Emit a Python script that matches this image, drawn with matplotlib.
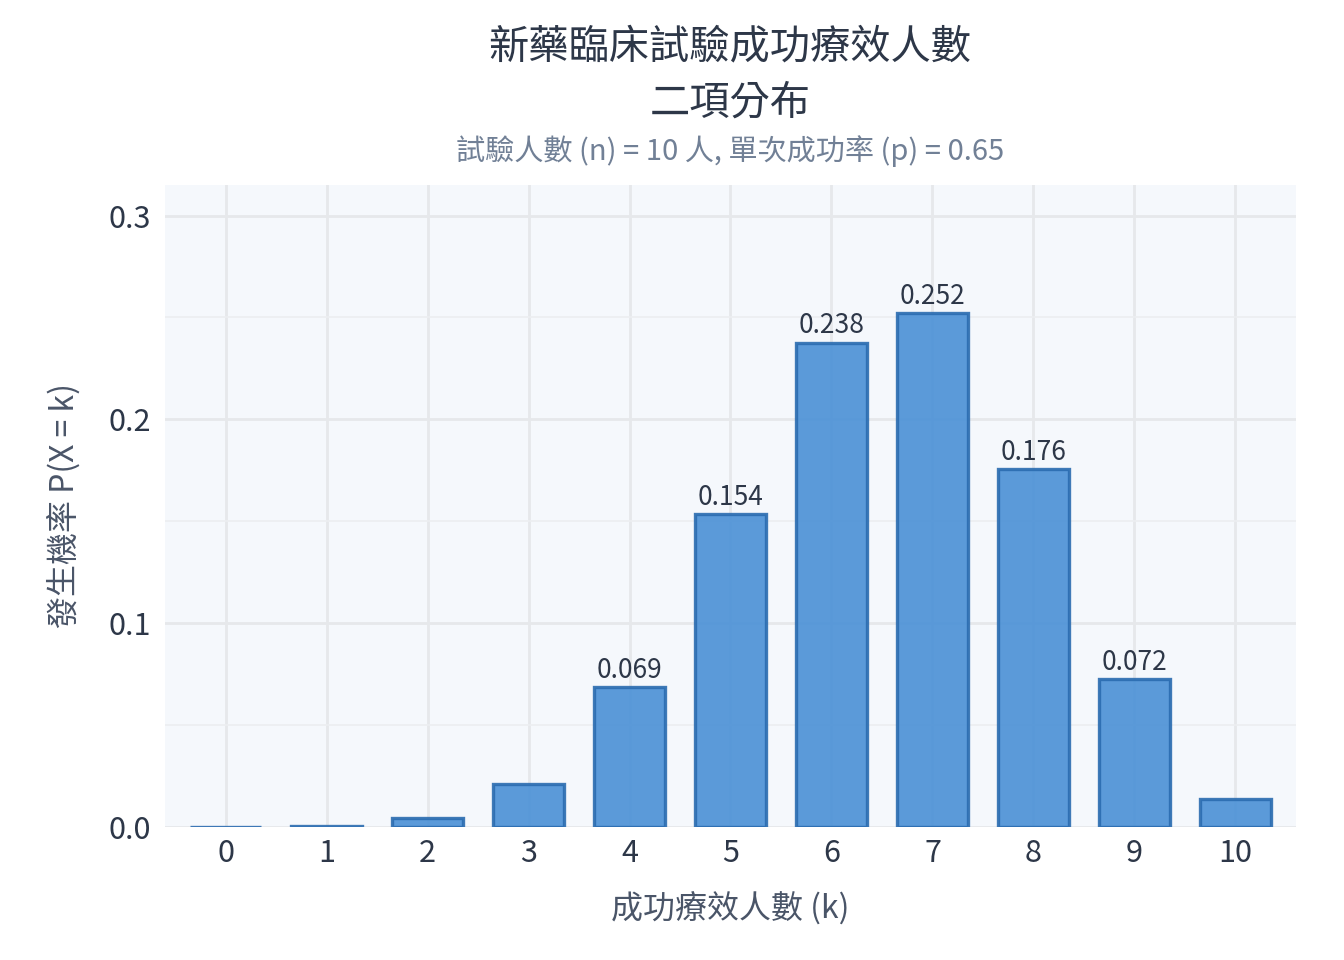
import matplotlib
matplotlib.use("Agg")
import matplotlib.pyplot as plt
from matplotlib.ticker import MultipleLocator

plt.rcParams['font.family'] = ['Noto Sans CJK TC', 'DejaVu Sans']

k_values = [0, 1, 2, 3, 4, 5, 6, 7, 8, 9, 10]
probs = [0.0000276, 0.000512, 0.00428, 0.0212, 0.0689, 0.1536, 0.2377, 0.2522, 0.1757, 0.0725, 0.0135]
label_threshold = 0.05

title = "新藥臨床試驗成功療效人數\n二項分布"
subtitle = "試驗人數 (n) = 10 人, 單次成功率 (p) = 0.65"
xlabel = "成功療效人數 (k)"
ylabel = "發生機率 P(X = k)"

fig = plt.figure(figsize=(6.72, 4.8), dpi=200)
ax = fig.add_axes([165/1344, 1-827/960, (1296-165)/1344, (827-185)/960])
ax.set_facecolor('#f5f8fc')
for s in ax.spines.values():
    s.set_visible(False)

ax.set_axisbelow(True)
ax.grid(True, which='major', color='#e6e8eb', linewidth=1.0)
ax.yaxis.set_minor_locator(MultipleLocator(0.05))
ax.grid(True, which='minor', axis='y', color='#eceef1', linewidth=0.6)

bars = ax.bar(k_values, probs, width=0.7, color='#4a90d6', alpha=0.9,
              edgecolor='#2b6cb0', linewidth=1.2)
for k, p in zip(k_values, probs):
    if p > label_threshold:
        ax.text(k, p + 0.0015, f"{p:.3f}", ha='center', va='bottom',
                fontsize=9.5, color='#2d3748')

ax.set_xlim(-0.6, 10.6)
ax.set_ylim(0, 0.315)
ax.set_xticks(k_values)
ax.yaxis.set_major_locator(MultipleLocator(0.1))
ax.yaxis.set_major_formatter(matplotlib.ticker.FuncFormatter(lambda v, _: f"{v:.1f}"))
ax.tick_params(axis='x', which='both', length=0, labelsize=11, labelcolor='#2d3748', pad=4)
ax.tick_params(axis='y', which='both', length=0, labelsize=11, labelcolor='#2d3748', pad=5)

ax.set_xlabel(xlabel, fontsize=11.5, color='#4a5568', labelpad=8)
ax.set_ylabel(ylabel, fontsize=11.5, color='#4a5568', labelpad=10)

fig.text(730/1344, 1-75/960, title, ha='center', va='center', fontsize=14.5,
         color='#2d3748', linespacing=1.45)
fig.text(730/1344, 1-151/960, subtitle, ha='center', va='center', fontsize=10.5,
         color='#718096')

fig.savefig("out.png", dpi=200)
